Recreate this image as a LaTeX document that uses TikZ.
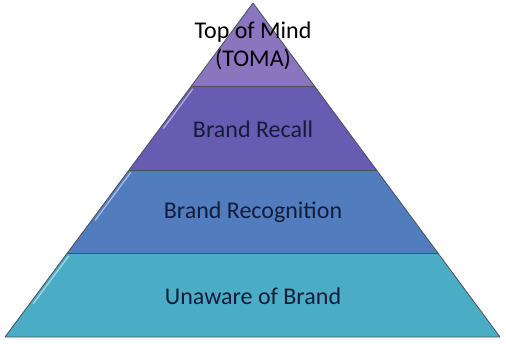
\documentclass[tikz,border=0pt]{standalone}
\usepackage{fontspec}
\setmainfont{Carlito}
\usepackage{xcolor}
\usetikzlibrary{calc}

\definecolor{topc}{HTML}{8A75BE}
\definecolor{recallc}{HTML}{685CB2}
\definecolor{recogc}{HTML}{517CBE}
\definecolor{unawc}{HTML}{4BACC6}
\definecolor{edgec}{HTML}{4A4F5A}
\definecolor{txtc}{HTML}{151C3A}

\begin{document}
\begin{tikzpicture}[x=1pt,y=-1pt,
			band/.style={draw=edgec,line width=0.8pt,line join=round},
			gloss/.style={line width=1.3pt,white,opacity=0.5,line cap=round},
			label/.style={font=\fontsize{24}{28}\selectfont,text=txtc,align=center},
			]
			\useasboundingbox (0,0) rectangle (506,345);
			
			% corners of the pyramid
			\coordinate (A) at (253,3);
			\coordinate (BL) at (5,337);
			\coordinate (BR) at (500,337);
			
			% boundaries between layers
			\foreach \t/\n in {0.25/1,0.5/2,0.75/3}{
				\coordinate (L\n) at ($(A)!\t!(BL)$);
				\coordinate (R\n) at ($(A)!\t!(BR)$);
			}
			
			% layers, from bottom to top
			\fill[unawc] (L3)--(R3)--(BR)--(BL)--cycle;
			\fill[recogc] (L2)--(R2)--(R3)--(L3)--cycle;
			\fill[recallc] (L1)--(R1)--(R2)--(L2)--cycle;
			\fill[topc] (A)--(R1)--(L1)--cycle;
			
			% light edge on the left side of each layer
			\draw[gloss] ($(L3)!0.03!(BL)+(3.5,0)$)--($(L3)!0.6!(BL)+(3.5,0)$);
			\draw[gloss] ($(L2)!0.03!(L3)+(3.5,0)$)--($(L2)!0.6!(L3)+(3.5,0)$);
			\draw[gloss] ($(L1)!0.03!(L2)+(3.5,0)$)--($(L1)!0.5!(L2)+(3.5,0)$);
			
			% outlines
			\draw[band] (L1)--(R1);
			\draw[band] (L2)--(R2);
			\draw[band] (L3)--(R3);
			\draw[band] (A)--(BR)--(BL)--cycle;
			
			% texts
			\node[label,text=black] (toma) at (253,46) {Top of Mind\\(TOMA)};
			\node[label] (recall) at (253,129) {Brand Recall};
			\node[label] (recog) at (253,212) {Brand Recognition};
			\node[label] (unaware) at (253,296) {Unaware of Brand};
		\end{tikzpicture}
\end{document}
